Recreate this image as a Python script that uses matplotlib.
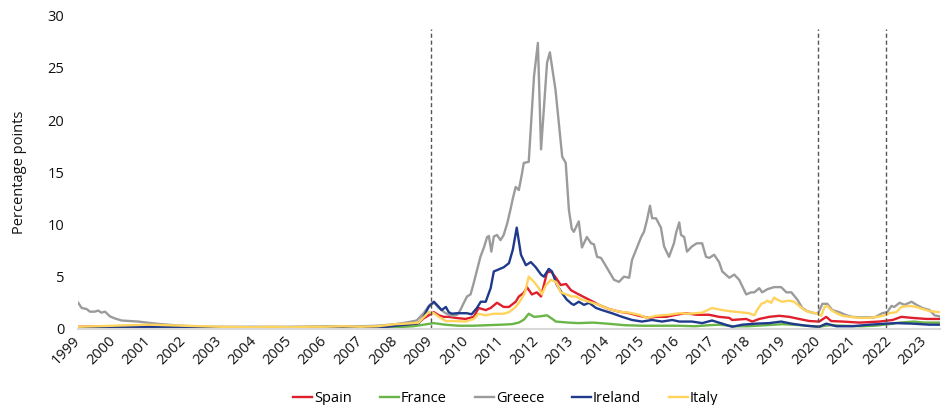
import matplotlib.pyplot as plt

plt.rcParams['font.family'] = ['Open Sans', 'DejaVu Sans']

# spreads vs Germany, percentage points (x = fractional year)
years = list(range(1999, 2024))
event_dates = [2009.0, 2020.0, 2021.92]

spain_x = [1999.0, 2000.0, 2001.0, 2002.0, 2003.0, 2004.0, 2005.0, 2006.0, 2007.0, 2007.5,
           2008.0, 2008.3, 2008.6, 2008.8, 2009.09, 2009.23, 2009.37, 2009.51, 2009.71, 2009.99,
           2010.22, 2010.36, 2010.56, 2010.7, 2010.88, 2011.07, 2011.22, 2011.41, 2011.5, 2011.64,
           2011.73, 2011.87, 2012.01, 2012.13, 2012.3, 2012.41, 2012.55, 2012.69, 2012.84, 2012.98,
           2013.2, 2013.49, 2013.77, 2014.06, 2014.34, 2014.63, 2014.91, 2015.19, 2015.39, 2015.68,
           2015.96, 2016.24, 2016.53, 2016.9, 2017.18, 2017.47, 2017.55, 2017.95, 2018.12, 2018.32,
           2018.6, 2018.89, 2019.17, 2019.45, 2019.74, 2020.02, 2020.22, 2020.36, 2020.68, 2021.16,
           2021.73, 2022.1, 2022.35, 2022.66, 2023.06, 2023.43]
spain = [0.2, 0.25, 0.3, 0.2, 0.1, 0.1, 0.1, 0.1, 0.1, 0.15,
         0.3, 0.35, 0.45, 1.0, 1.6, 1.3, 1.15, 1.15, 1.05, 0.95,
         1.15, 2.0, 1.8, 2.0, 2.5, 2.1, 2.1, 2.6, 3.1, 3.45,
         4.0, 3.3, 3.5, 3.1, 5.4, 5.5, 4.9, 4.2, 4.3, 3.7,
         3.3, 2.8, 2.3, 1.9, 1.65, 1.5, 1.25, 1.05, 1.15, 1.15,
         1.35, 1.5, 1.35, 1.35, 1.15, 1.05, 0.85, 0.95, 0.7, 0.95,
         1.15, 1.25, 1.15, 0.95, 0.75, 0.7, 1.15, 0.75, 0.7, 0.6,
         0.7, 0.85, 1.15, 1.05, 0.95, 0.95]

france_x = [1999.0, 2000.0, 2001.0, 2002.0, 2003.0, 2004.0, 2005.0, 2006.0, 2007.0, 2008.0,
            2008.5, 2008.8, 2009.09, 2009.4, 2009.8, 2010.2, 2010.6, 2011.0, 2011.3, 2011.5,
            2011.65, 2011.78, 2011.93, 2012.1, 2012.3, 2012.45, 2012.55, 2012.9, 2013.2, 2013.6,
            2014.0, 2014.5, 2015.0, 2015.5, 2016.0, 2016.5, 2016.9, 2017.2, 2017.6, 2018.0,
            2018.5, 2019.0, 2019.5, 2020.0, 2020.3, 2020.7, 2021.2, 2021.6, 2022.0, 2022.3,
            2022.7, 2023.0, 2023.43]
france = [0.05, 0.1, 0.15, 0.1, 0.05, 0.05, 0.05, 0.05, 0.05, 0.15,
          0.25, 0.4, 0.55, 0.4, 0.3, 0.3, 0.35, 0.4, 0.45, 0.6,
          0.9, 1.45, 1.15, 1.2, 1.3, 0.95, 0.7, 0.6, 0.55, 0.6,
          0.5, 0.35, 0.3, 0.3, 0.3, 0.25, 0.35, 0.4, 0.25, 0.25,
          0.35, 0.45, 0.35, 0.2, 0.35, 0.3, 0.25, 0.3, 0.45, 0.6,
          0.7, 0.6, 0.6]

greece_x = [1999.0, 1999.1, 1999.24, 1999.33, 1999.47, 1999.57, 1999.66, 1999.76, 1999.9, 2000.04,
            2000.23, 2000.7, 2001.2, 2001.9, 2002.6, 2003.0, 2004.0, 2005.0, 2006.0, 2007.0,
            2007.5, 2008.0, 2008.3, 2008.6, 2008.8, 2008.97, 2009.1, 2009.23, 2009.42, 2009.6,
            2009.75, 2009.84, 2009.94, 2010.03, 2010.13, 2010.22, 2010.32, 2010.41, 2010.51, 2010.6,
            2010.65, 2010.72, 2010.79, 2010.88, 2010.98, 2011.07, 2011.17, 2011.26, 2011.33, 2011.41,
            2011.5, 2011.59, 2011.64, 2011.78, 2011.93, 2012.04, 2012.13, 2012.3, 2012.38, 2012.54,
            2012.73, 2012.83, 2012.92, 2013.0, 2013.06, 2013.2, 2013.29, 2013.43, 2013.55, 2013.63,
            2013.72, 2013.83, 2013.92, 2014.06, 2014.2, 2014.34, 2014.48, 2014.63, 2014.71, 2014.85,
            2014.97, 2015.05, 2015.14, 2015.22, 2015.28, 2015.39, 2015.53, 2015.62, 2015.76, 2015.9,
            2015.96, 2016.05, 2016.1, 2016.19, 2016.27, 2016.41, 2016.55, 2016.7, 2016.81, 2016.9,
            2017.04, 2017.18, 2017.27, 2017.47, 2017.61, 2017.75, 2017.95, 2018.09, 2018.18, 2018.32,
            2018.4, 2018.55, 2018.74, 2018.94, 2019.09, 2019.23, 2019.4, 2019.54, 2019.68, 2019.88,
            2019.99, 2020.11, 2020.25, 2020.39, 2020.59, 2020.79, 2020.96, 2021.16, 2021.36, 2021.59,
            2021.81, 2021.95, 2022.07, 2022.15, 2022.3, 2022.44, 2022.64, 2022.78, 2022.95, 2023.15,
            2023.29, 2023.43]
greece = [2.5, 2.0, 1.9, 1.65, 1.65, 1.75, 1.55, 1.65, 1.2, 1.0,
          0.8, 0.7, 0.5, 0.3, 0.2, 0.2, 0.2, 0.2, 0.25, 0.25,
          0.3, 0.45, 0.6, 0.8, 1.5, 2.3, 2.5, 2.0, 1.5, 1.25,
          1.35, 1.8, 2.5, 3.1, 3.3, 4.4, 5.7, 6.9, 7.8, 8.8,
          8.9, 7.4, 8.85, 9.0, 8.5, 9.0, 10.1, 11.4, 12.5, 13.6,
          13.3, 14.9, 15.9, 16.0, 24.2, 27.4, 17.2, 25.5, 26.5, 22.9,
          16.5, 15.9, 11.4, 9.6, 9.3, 10.3, 7.8, 8.8, 8.2, 8.1,
          6.9, 6.8, 6.3, 5.5, 4.7, 4.5, 5.0, 4.9, 6.6, 7.8,
          8.8, 9.3, 10.5, 11.8, 10.6, 10.6, 9.7, 7.9, 6.9, 8.2,
          9.2, 10.2, 9.0, 8.8, 7.4, 7.9, 8.2, 8.2, 6.9, 6.8,
          7.1, 6.4, 5.5, 4.9, 5.2, 4.7, 3.3, 3.5, 3.5, 3.9,
          3.5, 3.8, 4.0, 4.0, 3.5, 3.5, 2.8, 2.0, 1.7, 1.5,
          1.5, 2.4, 2.4, 1.8, 1.6, 1.3, 1.15, 1.1, 1.1, 1.1,
          1.5, 1.6, 2.2, 2.1, 2.5, 2.3, 2.6, 2.3, 2.0, 1.8,
          1.3, 1.2]

ireland_x = [1999.0, 2000.0, 2001.0, 2002.0, 2003.0, 2004.0, 2005.0, 2006.0, 2007.0, 2007.5,
             2008.0, 2008.3, 2008.66, 2008.8, 2008.94, 2009.09, 2009.23, 2009.31, 2009.43, 2009.51,
             2009.6, 2009.74, 2009.88, 2010.02, 2010.16, 2010.31, 2010.42, 2010.56, 2010.7, 2010.79,
             2010.93, 2011.07, 2011.22, 2011.33, 2011.44, 2011.56, 2011.7, 2011.84, 2011.98, 2012.13,
             2012.21, 2012.35, 2012.44, 2012.58, 2012.72, 2012.86, 2013.0, 2013.06, 2013.2, 2013.35,
             2013.49, 2013.69, 2013.86, 2014.14, 2014.43, 2014.71, 2014.99, 2015.28, 2015.56, 2015.85,
             2016.05, 2016.41, 2016.7, 2016.98, 2017.27, 2017.55, 2017.84, 2018.23, 2018.6, 2018.94,
             2019.23, 2019.65, 2020.02, 2020.22, 2020.51, 2020.96, 2021.44, 2021.93, 2022.21, 2022.66,
             2023.15, 2023.43]
ireland = [0.15, 0.15, 0.2, 0.15, 0.05, 0.05, 0.05, 0.05, 0.05, 0.1,
           0.3, 0.4, 0.55, 1.15, 2.1, 2.6, 2.1, 1.8, 2.1, 1.6,
           1.45, 1.5, 1.5, 1.5, 1.4, 2.0, 2.6, 2.6, 3.9, 5.5,
           5.7, 5.9, 6.3, 7.6, 9.7, 7.1, 6.1, 6.4, 5.9, 5.2,
           5.0, 5.75, 5.5, 4.2, 3.45, 2.8, 2.4, 2.3, 2.6, 2.3,
           2.5, 2.0, 1.8, 1.5, 1.15, 0.85, 0.7, 0.85, 0.7, 0.85,
           0.7, 0.7, 0.55, 0.8, 0.5, 0.2, 0.4, 0.5, 0.55, 0.7,
           0.5, 0.3, 0.2, 0.5, 0.25, 0.25, 0.4, 0.5, 0.55, 0.5,
           0.4, 0.4]

italy_x = [1999.0, 1999.5, 2000.0, 2000.5, 2001.0, 2001.5, 2002.0, 2002.5, 2003.0, 2004.0,
           2004.5, 2005.0, 2005.5, 2006.0, 2006.5, 2007.0, 2007.5, 2008.0, 2008.3, 2008.66,
           2008.8, 2008.94, 2009.09, 2009.23, 2009.43, 2009.71, 2009.99, 2010.22, 2010.36, 2010.56,
           2010.79, 2011.07, 2011.22, 2011.41, 2011.56, 2011.67, 2011.78, 2011.93, 2012.07, 2012.15,
           2012.27, 2012.41, 2012.55, 2012.69, 2012.84, 2013.0, 2013.12, 2013.29, 2013.49, 2013.77,
           2014.06, 2014.34, 2014.63, 2014.91, 2015.14, 2015.39, 2015.76, 2016.05, 2016.33, 2016.7,
           2016.98, 2017.27, 2017.47, 2017.75, 2018.03, 2018.18, 2018.26, 2018.38, 2018.46, 2018.55,
           2018.66, 2018.74, 2018.83, 2018.97, 2019.17, 2019.31, 2019.45, 2019.6, 2019.74, 2019.94,
           2020.08, 2020.17, 2020.25, 2020.36, 2020.51, 2020.68, 2020.88, 2021.16, 2021.44, 2021.67,
           2021.87, 2022.01, 2022.21, 2022.35, 2022.58, 2022.78, 2022.95, 2023.15, 2023.43]
italy = [0.2, 0.25, 0.3, 0.35, 0.4, 0.35, 0.3, 0.25, 0.2, 0.15,
         0.2, 0.15, 0.2, 0.2, 0.25, 0.2, 0.25, 0.45, 0.5, 0.6,
         1.1, 1.6, 1.5, 1.15, 0.75, 0.75, 0.7, 0.95, 1.45, 1.3,
         1.45, 1.45, 1.6, 2.1, 2.8, 3.45, 5.0, 4.5, 3.9, 3.3,
         4.2, 4.7, 4.5, 3.5, 3.3, 3.1, 3.1, 2.8, 2.6, 2.3,
         1.9, 1.65, 1.55, 1.35, 1.05, 1.25, 1.35, 1.5, 1.45, 1.55,
         2.0, 1.8, 1.7, 1.6, 1.5, 1.3, 1.8, 2.4, 2.5, 2.7,
         2.5, 3.0, 2.8, 2.6, 2.7, 2.6, 2.2, 1.8, 1.6, 1.5,
         1.25, 2.1, 2.2, 1.8, 1.5, 1.25, 1.15, 1.05, 1.05, 1.15,
         1.3, 1.5, 1.6, 2.1, 2.2, 2.1, 1.9, 1.7, 1.6]

series = [
    ('Spain', spain_x, spain, '#e01f2d'),
    ('France', france_x, france, '#6ab547'),
    ('Greece', greece_x, greece, '#9b9b9b'),
    ('Ireland', ireland_x, ireland, '#1f3a8c'),
    ('Italy', italy_x, italy, '#ffd35c'),
]

fig = plt.figure(figsize=(9.42, 4.05), dpi=100)
ax = fig.add_axes([0.083, 0.188, 0.915, 0.773])

for name, x, y, color in series:
    ax.plot(x, y, color=color, lw=1.7, label=name)

for d in event_dates:
    ax.vlines(d, 0, 28.7, colors='#555555', linestyles=(0, (3, 2)), lw=1)

ax.set_xlim(1999, 2023.45)
ax.set_ylim(0, 30)
ax.set_yticks([0, 5, 10, 15, 20, 25, 30])
ax.set_xticks(years)
ax.set_xticklabels([str(y) for y in years], rotation=45, ha='right',
                   va='center', rotation_mode='anchor')
ax.tick_params(axis='both', length=0, labelsize=10.5, labelcolor='#111111')
ax.tick_params(axis='y', pad=10)
ax.tick_params(axis='x', pad=7)
ax.set_ylabel('Percentage points', fontsize=10.5, labelpad=15, color='#111111')

for side in ['top', 'right', 'left']:
    ax.spines[side].set_visible(False)
ax.spines['bottom'].set_color('#d9d9d9')
ax.spines['bottom'].set_linewidth(1.5)

fig.legend(loc='lower center', bbox_to_anchor=(0.537, -0.035), ncol=5, frameon=False,
           fontsize=10.5, handlelength=1.3, handletextpad=0.15, columnspacing=1.9)

fig.savefig('out.png', dpi=100)
